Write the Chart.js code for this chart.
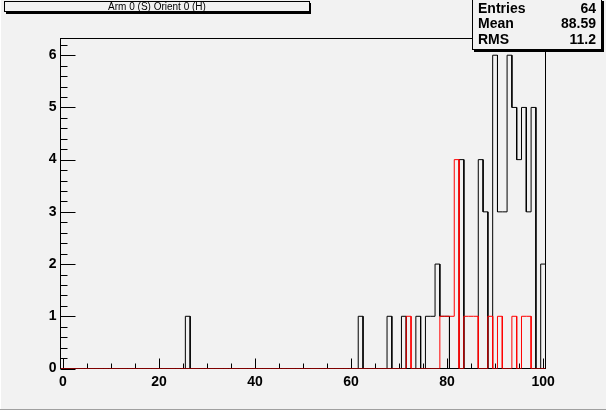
<!DOCTYPE html>
<html>
<head>
<meta charset="utf-8">
<script src="https://cdn.jsdelivr.net/npm/chart.js@4"></script>
<style>
  html, body { margin: 0; padding: 0; background: #f2f2f2; }
  #wrap { width: 606px; height: 410px; position: relative; }
</style>
</head>
<body>
<div id="wrap"><canvas id="hist" width="606" height="410"></canvas></div>
<script>
// histogram: 101 bins of width 1, centred on 0..100
const nBins = 101;
const xMin = -0.5;
const xMax = 100.5;

// non-empty bins, black histogram (the one the stats box refers to)
const blackBins   = [26, 62, 68, 71, 74, 76, 77, 78, 79, 80, 83, 87, 88, 90, 91, 92, 93, 94, 95, 96, 97, 98, 100];
const blackCounts = [ 1,  1,  1,  1,  1,  1,  1,  2,  1,  1,  4,  4,  3,  6,  3,  3,  6,  5,  4,  5,  3,  5,   2];

// non-empty bins, red histogram
const redBins   = [72, 79, 80, 81, 82, 84, 85, 86, 89, 91, 94, 96, 97];
const redCounts = [ 1,  1,  1,  1,  4,  1,  1,  1,  1,  1,  1,  1,  1];

const xTickLabels = [0, 20, 40, 60, 80, 100];
const yTickLabels = [0, 1, 2, 3, 4, 5, 6];
const yMax = 6.32;

const titleText = 'Arm 0 (S) Orient 0 (H)';
const statsRows = [['Entries', '64'], ['Mean', '88.59'], ['RMS', '11.2']];

// full bin contents -> outline points (ROOT style step histogram)
function outline(bins, counts) {
    const full = new Array(nBins).fill(0);
    bins.forEach((b, i) => { full[b] = counts[i]; });
    const pts = [{ x: xMin, y: 0 }];
    full.forEach((c, i) => {
        pts.push({ x: i - 0.5, y: c });
        pts.push({ x: i + 0.5, y: c });
    });
    pts.push({ x: xMax, y: 0 });
    return pts;
}

const boldFont = { family: 'Liberation Sans', size: 14, weight: 'bold' };

const rootDecor = {
    id: 'rootDecor',
    beforeDatasetsDraw(chart) {
        const { ctx, chartArea: a, scales } = chart;
        ctx.save();
        ctx.strokeStyle = '#000';
        ctx.lineWidth = 1;
        ctx.strokeRect(a.left, a.top, a.right - a.left, a.bottom - a.top);
        ctx.beginPath();
        // x ticks, pointing up into the frame
        for (let v = 0; v <= 100; v += 5) {
            const px = Math.round(scales.x.getPixelForValue(v)) + 0.5;
            const len = v % 20 === 0 ? 10 : 5;
            ctx.moveTo(px, a.bottom);
            ctx.lineTo(px, a.bottom - len);
        }
        // y ticks, pointing right into the frame
        for (let k = 0; k * 0.2 <= yMax; k++) {
            const v = k * 0.2;
            const py = Math.round(scales.y.getPixelForValue(v)) + 0.5;
            const len = k % 5 === 0 ? 15 : 7;
            ctx.moveTo(a.left, py);
            ctx.lineTo(a.left + len, py);
        }
        ctx.stroke();
        ctx.restore();
    },
    afterDraw(chart) {
        const { ctx } = chart;
        ctx.save();
        // title pave
        ctx.fillStyle = '#000';
        ctx.fillRect(6, 3, 305, 11);
        ctx.fillStyle = '#f2f2f2';
        ctx.fillRect(4.5, 1.5, 305, 10);
        ctx.strokeStyle = '#000';
        ctx.lineWidth = 1;
        ctx.strokeRect(4.5, 1.5, 305, 10);
        ctx.fillStyle = '#000';
        ctx.font = '10px "Liberation Sans"';
        ctx.textAlign = 'center';
        ctx.textBaseline = 'middle';
        ctx.fillText(titleText, 157, 7);

        // stats pave
        ctx.fillStyle = '#000';
        ctx.fillRect(474, 1, 130, 51);
        ctx.fillStyle = '#f2f2f2';
        ctx.fillRect(472.5, -0.5, 129, 50);
        ctx.strokeRect(472.5, -0.5, 129, 50);
        ctx.fillStyle = '#000';
        ctx.font = 'bold 14px "Liberation Sans"';
        const rowY = [9, 24.5, 40];
        statsRows.forEach((r, i) => {
            ctx.textAlign = 'left';
            ctx.fillText(r[0], 478, rowY[i]);
            ctx.textAlign = 'right';
            ctx.fillText(r[1], 596, rowY[i]);
        });

        // canvas bevel
        ctx.fillStyle = '#a0a0a0';
        ctx.fillRect(0, 409, 606, 1);
        ctx.fillStyle = '#ffffff';
        ctx.fillRect(0, 0, 1, 409);
        ctx.restore();
    }
};

new Chart(document.getElementById('hist'), {
    type: 'line',
    data: {
        datasets: [
            {
                label: 'red',
                data: outline(redBins, redCounts),
                borderColor: '#ff0000',
                borderWidth: 1,
                pointRadius: 0,
                tension: 0,
                order: 1
            },
            {
                label: 'black',
                data: outline(blackBins, blackCounts),
                borderColor: '#000000',
                borderWidth: 1,
                pointRadius: 0,
                tension: 0,
                order: 2
            }
        ]
    },
    options: {
        responsive: false,
        animation: false,
        events: [],
        layout: { padding: { left: 0, top: 38.5, right: 60.5, bottom: 0 } },
        plugins: { legend: { display: false }, tooltip: { enabled: false } },
        scales: {
            x: {
                type: 'linear',
                min: xMin,
                max: xMax,
                grid: { display: false, drawTicks: false },
                border: { display: false },
                afterBuildTicks: s => { s.ticks = xTickLabels.map(v => ({ value: v })); },
                afterFit: s => { s.height = 41.5; },
                ticks: { color: '#000', font: boldFont, padding: 5, maxRotation: 0, autoSkip: false }
            },
            y: {
                type: 'linear',
                min: 0,
                max: yMax,
                grid: { display: false, drawTicks: false },
                border: { display: false },
                afterBuildTicks: s => { s.ticks = yTickLabels.map(v => ({ value: v })); },
                afterFit: s => { s.width = 60.5; },
                ticks: { color: '#000', font: boldFont, padding: 4, autoSkip: false }
            }
        }
    },
    plugins: [rootDecor]
});
</script>
</body>
</html>
